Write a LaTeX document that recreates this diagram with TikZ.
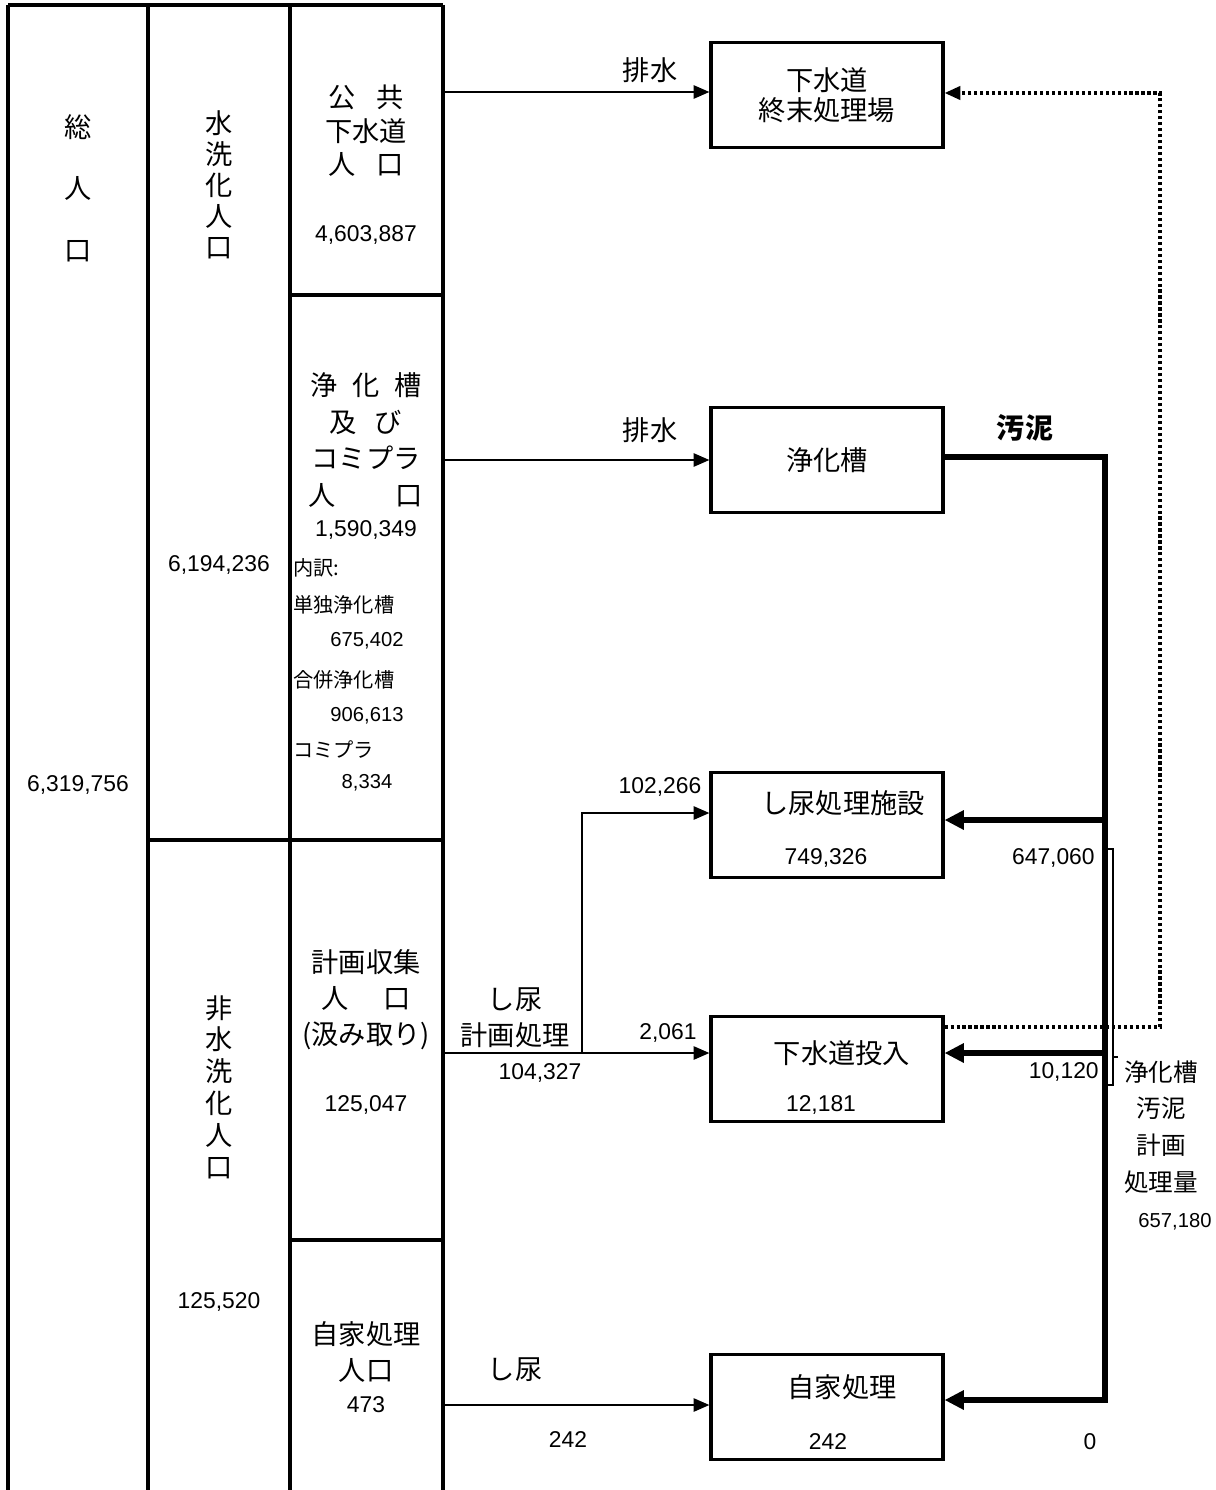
\documentclass[tikz,border=0pt]{standalone}
\usepackage{fontspec}
\setmainfont{Liberation Sans}
\newfontfamily\jp{Noto Sans CJK JP}
\usetikzlibrary{arrows.meta}

\begin{document}
\begin{tikzpicture}[x=0.02cm,y=-0.02cm]
        \tikzstyle{every node}=[inner sep=0pt];
        \tikzstyle{jp}=[font=\jp\fontsize{15.5}{19}\selectfont, align=center];
        \tikzstyle{num}=[font=\fontsize{13}{15}\selectfont];
        \tikzstyle{small}=[font=\jp\fontsize{11.5}{13}\selectfont];
        \tikzstyle{snum}=[font=\fontsize{11.5}{13}\selectfont];
        \tikzstyle{grid}=[line width=1.8pt];
        \tikzstyle{proc}=[draw, line width=1.8pt, minimum width=4.64cm, minimum height=2.1cm];
        \tikzstyle{arr}=[line width=1.2pt, -{Triangle[length=9pt,width=7.5pt]}];
        \tikzstyle{fat}=[line width=3.4pt];
        \tikzstyle{fatarr}=[line width=3.4pt, -{Triangle[length=11pt,width=10.5pt]}];
        \tikzstyle{dotline}=[line width=2pt, dash pattern=on 1.8pt off 1.6pt];
        \useasboundingbox (0,0) rectangle (1216,1490);
        % table of populations
        \draw[grid] (8,5) -- (443,5);
        \draw[grid] (8,5) -- (8,1490) (148,5) -- (148,1490) (290,5) -- (290,1490) (443,5) -- (443,1490);
        \draw[grid] (290,295) -- (443,295) (148,840) -- (443,840) (290,1240) -- (443,1240);
        \coordinate (c3) at (443,0);
        \node[jp, font=\jp\fontsize{15.5}{35}\selectfont] (sou) at (78,188) {総\\人\\口};
        \node[num] (souN) at (78,785) {6,319,756};
        \node[jp, font=\jp\fontsize{15.5}{17.6}\selectfont] (suisen) at (219,185) {水\\洗\\化\\人\\口};
        \node[num] (suisenN) at (219,565) {6,194,236};
        \node[jp, font=\jp\fontsize{15.5}{18.1}\selectfont] (hisuisen) at (219,1087) {非\\水\\洗\\化\\人\\口};
        \node[num] (hisuisenN) at (219,1302) {125,520};
        \node[jp] (koukyou) at (366,131) {公\hspace{0.75em}共\\下水道\\人\hspace{0.75em}口};
        \node[num] (koukyouN) at (366,235) {4,603,887};
        \node[jp, font=\jp\fontsize{15.5}{21}\selectfont] (jouka) at (366,440) {浄\hspace{0.55em}化\hspace{0.55em}槽\\及\hspace{0.65em}び\\コミプラ\\人\hspace{2.2em}口};
        \node[num] (joukaN) at (366,530) {1,590,349};
        \node[small, anchor=west] (uchiwake) at (293,568) {内訳:};
        \node[small, anchor=west] (tandoku) at (293,605) {単独浄化槽};
        \node[snum] (tandokuN) at (367,641) {675,402};
        \node[small, anchor=west] (gappei) at (293,680) {合併浄化槽};
        \node[snum] (gappeiN) at (367,716) {906,613};
        \node[small, anchor=west] (komipura) at (293,750) {コミプラ};
        \node[snum] (komipuraN) at (367,783) {8,334};
        \node[jp, font=\jp\fontsize{15.5}{20.4}\selectfont] (keikaku) at (366,1000) {計画収集\\人\hspace{1.3em}口\\(汲み取り)};
        \node[num] (keikakuN) at (366,1105) {125,047};
        \node[jp, font=\jp\fontsize{15.5}{21}\selectfont] (jika) at (366,1352) {自家処理\\人口};
        \node[num] (jikaN) at (366,1405) {473};
        % treatment boxes
        \node[proc, jp, font=\jp\fontsize{15.5}{17}\selectfont] (shumatsu) at (827,95) {下水道\\終末処理場};
        \node[proc, jp] (joukasou) at (827,460) {浄化槽};
        \node[proc] (shinyo) at (827,825) {};
        \node[jp] (shinyoT) at (843,803) {し尿処理施設};
        \node[num] (shinyoN) at (826,858) {749,326};
        \node[proc] (gesui) at (827,1069) {};
        \node[jp] (gesuiT) at (842,1053) {下水道投入};
        \node[num] (gesuiN) at (821,1105) {12,181};
        \node[proc] (jikashori) at (827,1407) {};
        \node[jp] (jikaT) at (842,1387) {自家処理};
        \node[num] (jikaBN) at (828,1442) {242};
        % flows
        \draw[arr] (c3 |- 0,92) -- (shumatsu.west |- 0,92);
        \node[jp] (haisui1) at (650,70) {排水};
        \draw[arr] (c3 |- joukasou.west) -- (joukasou.west);
        \node[jp] (haisui2) at (650,430) {排水};
        \draw[arr] (c3 |- 0,1053) -- (gesui.west |- 0,1053);
        \draw[arr] (582,1053) -- (582,813) -- (shinyo.west |- 0,813);
        \node[jp] (shinyo1) at (515,1000) {し尿};
        \node[jp] (shinyo2) at (515,1035) {計画処理};
        \node[num] (shinyo1N) at (540,1073) {104,327};
        \node[num] (toShinyo) at (660,787) {102,266};
        \node[num] (toGesui) at (668,1033) {2,061};
        \draw[arr] (c3 |- 0,1405) -- (jikashori.west |- 0,1405);
        \node[jp] (shinyo3) at (515,1370) {し尿};
        \node[num] (toJika) at (568,1440) {242};
        % sludge
        \draw[fat] (joukasou.east |- 0,457) -- (1105,457) -- (1105,1403);
        \node[jp, font=\jp\bfseries\fontsize{16}{18}\selectfont] (odei) at (1025,428) {汚泥};
        \draw[fatarr] (1103,820) -- (shinyo.east |- 0,820);
        \draw[fatarr] (1103,1053) -- (gesui.east |- 0,1053);
        \draw[fatarr] (1103,1400) -- (jikashori.east |- 0,1400);
        \node[num, anchor=east] (sludgeShinyo) at (1095,858) {647,060};
        \node[num, anchor=east] (sludgeGesui) at (1099,1072) {10,120};
        \node[num] (sludgeJika) at (1090,1442) {0};
        \draw[dotline, -{Triangle[length=9pt,width=7.5pt]}] (gesui.east |- 0,1027) -- (1160,1027) -- (1160,93) -- (shumatsu.east |- 0,93);
        \draw[line width=0.6pt] (1108,849) -- (1113,849) -- (1113,1085) -- (1108,1085) (1113,1057) -- (1118,1057);
        \node[jp, font=\jp\fontsize{14}{21}\selectfont] (keikakuR) at (1161,1127) {浄化槽\\汚泥\\計画\\処理量};
        \node[snum] (keikakuRN) at (1175,1222) {657,180};
\end{tikzpicture}
\end{document}
